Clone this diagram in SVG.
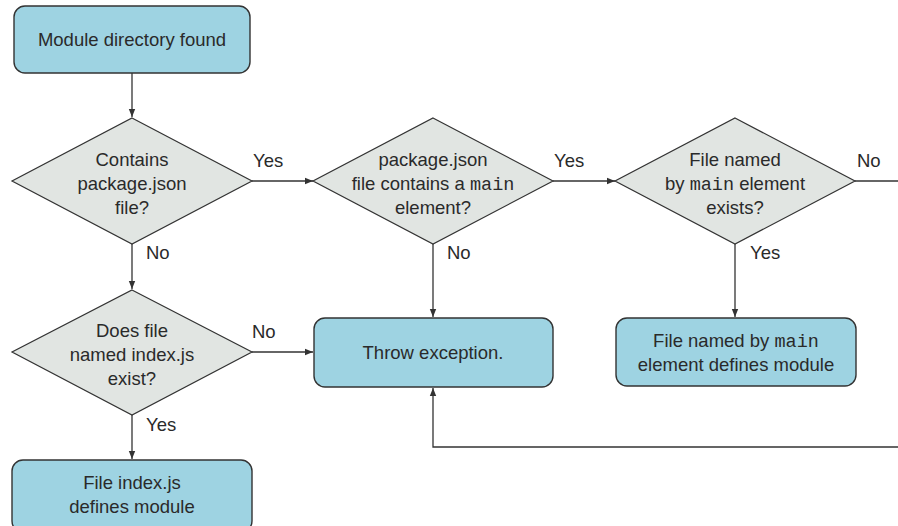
<svg xmlns="http://www.w3.org/2000/svg" width="898" height="526" viewBox="0 0 898 526">
<defs>
<marker id="arr" viewBox="0 0 10 10" refX="10" refY="5" markerWidth="8" markerHeight="8" markerUnits="userSpaceOnUse" orient="auto">
<path d="M0,1 L10,5 L0,9 Z" fill="#333"/>
</marker>
<style>
.box{fill:#9ed3e2;stroke:#333;stroke-width:1.4}
.dia{fill:#e1e5e2;stroke:#333;stroke-width:1.2}
.t{font-family:"Liberation Sans",Arial,sans-serif;font-size:18.5px;fill:#2a2a2a;text-anchor:middle}
.l{font-family:"Liberation Sans",Arial,sans-serif;font-size:18.5px;fill:#2a2a2a}
.m{font-family:"Liberation Mono","Courier New",monospace}
.c{fill:none;stroke:#333;stroke-width:1.3}
</style>
</defs>
<rect width="898" height="526" fill="#fff"/>
<g id="connectors">
<path class="c" d="M132,73 V117" marker-end="url(#arr)"/>
<path class="c" d="M252,181 H313" marker-end="url(#arr)"/>
<path class="c" d="M553,181 H615" marker-end="url(#arr)"/>
<path class="c" d="M855,181 H898"/>
<path class="c" d="M132,244 V289" marker-end="url(#arr)"/>
<path class="c" d="M433,244 V317" marker-end="url(#arr)"/>
<path class="c" d="M735,244 V317" marker-end="url(#arr)"/>
<path class="c" d="M252,352 H313" marker-end="url(#arr)"/>
<path class="c" d="M132,415 V459" marker-end="url(#arr)"/>
<path class="c" d="M898,447 H433 V388" marker-end="url(#arr)"/>
<text class="l" x="253" y="167">Yes</text>
<text class="l" x="554" y="167">Yes</text>
<text class="l" x="857" y="167">No</text>
<text class="l" x="146" y="259">No</text>
<text class="l" x="447" y="259">No</text>
<text class="l" x="750" y="259">Yes</text>
<text class="l" x="252" y="338">No</text>
<text class="l" x="146" y="431">Yes</text>
</g>
<g id="start">
<rect class="box" x="14" y="6" width="236" height="67" rx="11"/>
<text class="t" x="132" y="46">Module directory found</text>
</g>
<g id="d1">
<path class="dia" d="M132,118 L252,181 L132,244 L12,181 Z"/>
<text class="t" x="132" y="166">Contains</text>
<text class="t" x="132" y="190">package.json</text>
<text class="t" x="132" y="214">file?</text>
</g>
<g id="d2">
<path class="dia" d="M433,118 L553,181 L433,244 L313,181 Z"/>
<text class="t" x="433" y="166">package.json</text>
<text class="t" x="433" y="190">file contains a <tspan class="m">main</tspan></text>
<text class="t" x="433" y="214">element?</text>
</g>
<g id="d3">
<path class="dia" d="M735,118 L855,181 L735,244 L615,181 Z"/>
<text class="t" x="735" y="166">File named</text>
<text class="t" x="735" y="190">by <tspan class="m">main</tspan> element</text>
<text class="t" x="735" y="214">exists?</text>
</g>
<g id="d4">
<path class="dia" d="M132,290 L252,352 L132,415 L12,352 Z"/>
<text class="t" x="132" y="337">Does file</text>
<text class="t" x="132" y="361">named index.js</text>
<text class="t" x="132" y="385">exist?</text>
</g>
<g id="throw">
<rect class="box" x="314" y="318" width="239" height="69" rx="11"/>
<text class="t" x="433" y="359">Throw exception.</text>
</g>
<g id="mainmod">
<rect class="box" x="616" y="318" width="240" height="68" rx="11"/>
<text class="t" x="736" y="347">File named by <tspan class="m">main</tspan></text>
<text class="t" x="736" y="371">element defines module</text>
</g>
<g id="indexmod">
<rect class="box" x="12" y="460" width="240" height="72" rx="11"/>
<text class="t" x="132" y="489">File index.js</text>
<text class="t" x="132" y="513">defines module</text>
</g>
</svg>
